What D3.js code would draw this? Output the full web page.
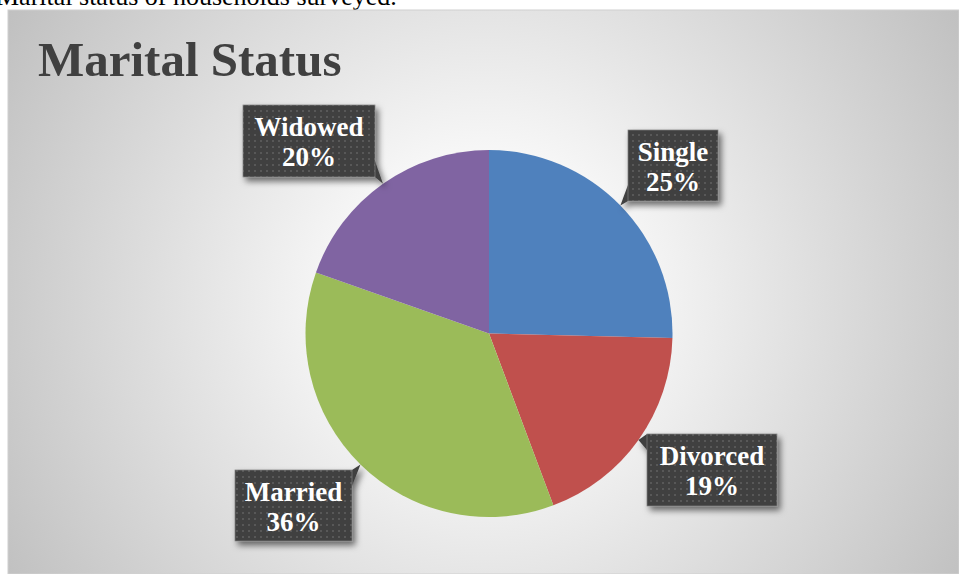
<!DOCTYPE html>
<html>
<head>
<meta charset="utf-8">
<script src="https://cdn.jsdelivr.net/npm/d3@7"></script>
<style>
  body { margin: 0; background: #fff; overflow: hidden; }
  svg { display: block; }
</style>
</head>
<body>
<div id="chart"></div>
<script>
// Data (share of households, %)
const categories = ["Single", "Divorced", "Married", "Widowed"];
const shares = [25.4, 18.9, 36.1, 19.6];
const pctLabels = ["25%", "19%", "36%", "20%"];
const colors = ["#4F81BD", "#C0504D", "#9BBB59", "#8064A2"];

// Label box centres and sizes (layout only)
const boxes = [
  { cx: 673, cy: 165.5, w: 90, h: 71 },
  { cx: 712, cy: 470, w: 130, h: 72 },
  { cx: 293.5, cy: 505.5, w: 117, h: 71 },
  { cx: 309, cy: 141, w: 132, h: 72 }
];

const W = 959, H = 574;
const cx = 489, cy = 333.5, radius = 183.5;

const svg = d3.select("#chart").append("svg")
  .attr("width", W)
  .attr("height", H);

const defs = svg.append("defs");

// Background gradient
const grad = defs.append("radialGradient")
  .attr("id", "bg")
  .attr("gradientUnits", "userSpaceOnUse")
  .attr("cx", 485).attr("cy", 300).attr("r", 580);
grad.append("stop").attr("offset", "0%").attr("stop-color", "#ffffff");
grad.append("stop").attr("offset", "20%").attr("stop-color", "#fbfbfb");
grad.append("stop").attr("offset", "100%").attr("stop-color", "#bdbdbd");

// Dotted fill for the label boxes
const pat = defs.append("pattern")
  .attr("id", "dots")
  .attr("patternUnits", "userSpaceOnUse")
  .attr("width", 6).attr("height", 6);
pat.append("rect").attr("width", 6).attr("height", 6).attr("fill", "#3f3f3f");
pat.append("rect").attr("x", 2).attr("y", 2).attr("width", 2).attr("height", 2).attr("fill", "#585858");

const shadow = defs.append("filter")
  .attr("id", "shadow")
  .attr("x", "-20%").attr("y", "-20%").attr("width", "150%").attr("height", "160%");
shadow.append("feDropShadow")
  .attr("dx", 3).attr("dy", 4).attr("stdDeviation", 3)
  .attr("flood-color", "#000").attr("flood-opacity", 0.55);

// Caption above the chart (cut off by the frame)
svg.append("text")
  .attr("x", -4)
  .attr("y", 5)
  .attr("font-family", "Liberation Serif, serif")
  .attr("font-size", 26)
  .attr("fill", "#000")
  .text("Marital status of households surveyed.");

// Chart area
svg.append("rect")
  .attr("x", 8).attr("y", 10)
  .attr("width", W - 8).attr("height", H - 10)
  .attr("fill", "url(#bg)")
  .attr("stroke", "#d0d0d0")
  .attr("stroke-width", 1);

// Title
svg.append("text")
  .attr("x", 38)
  .attr("y", 76)
  .attr("font-family", "Liberation Serif, serif")
  .attr("font-weight", "bold")
  .attr("font-size", 49)
  .attr("fill", "#404040")
  .text("Marital Status");

// Pie
const pie = d3.pie().sort(null).value(d => d)(shares);
const arc = d3.arc().innerRadius(0).outerRadius(radius);

const g = svg.append("g").attr("transform", `translate(${cx},${cy})`);
g.selectAll("path.slice")
  .data(pie)
  .join("path")
  .attr("class", "slice")
  .attr("d", arc)
  .attr("fill", (d, i) => colors[i]);

// Callouts
const labels = svg.append("g");
pie.forEach((d, i) => {
  const b = boxes[i];
  const mid = (d.startAngle + d.endAngle) / 2;
  const tx = cx + radius * Math.sin(mid);
  const ty = cy - radius * Math.cos(mid);
  const x0 = b.cx - b.w / 2, x1 = b.cx + b.w / 2;
  const y0 = b.cy - b.h / 2, y1 = b.cy + b.h / 2;

  // pointer base sits on the box corner nearest the tip
  const nx = tx < b.cx ? x0 : x1;
  const ny = ty < b.cy ? y0 : y1;
  const horiz = Math.abs(tx - nx) > Math.abs(ty - ny);
  const base = horiz
    ? [[nx, ny], [nx, ny + (ny === y0 ? 16 : -16)]]
    : [[nx, ny], [nx + (nx === x0 ? 28 : -28), ny]];

  const grp = labels.append("g").attr("filter", "url(#shadow)");
  grp.append("path")
    .attr("d", `M${base[0][0]},${base[0][1]}L${tx},${ty}L${base[1][0]},${base[1][1]}Z`)
    .attr("fill", "#3f3f3f");
  grp.append("rect")
    .attr("x", x0).attr("y", y0)
    .attr("width", b.w).attr("height", b.h)
    .attr("fill", "url(#dots)")
    .attr("stroke", "#7f7f7f")
    .attr("stroke-width", 0.75);

  const t = labels.append("text")
    .attr("text-anchor", "middle")
    .attr("font-family", "Liberation Serif, serif")
    .attr("font-weight", "bold")
    .attr("font-size", 27)
    .attr("fill", "#fff");
  t.append("tspan").attr("x", b.cx).attr("y", b.cy - 5).text(categories[i]);
  t.append("tspan").attr("x", b.cx).attr("y", b.cy + 25).text(pctLabels[i]);
});
</script>
</body>
</html>
